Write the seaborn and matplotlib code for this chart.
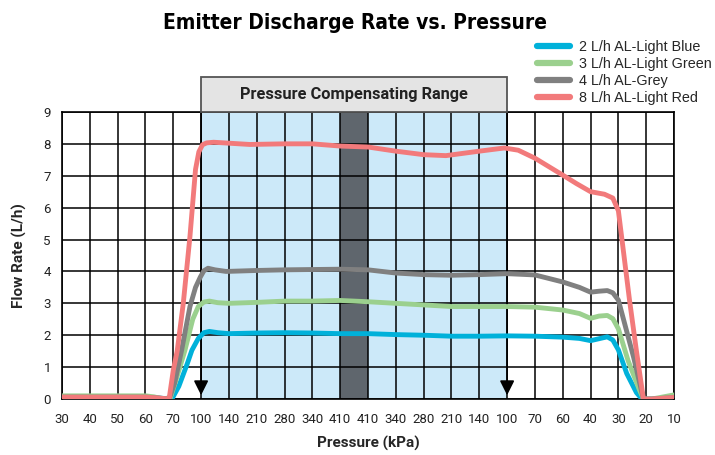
import matplotlib
matplotlib.use("Agg")
import matplotlib.pyplot as plt
import matplotlib.patches as mpatches
from matplotlib.lines import Line2D
import seaborn as sns
import pandas as pd

# Tick labels on the pressure axis (kPa): rising then falling pressure
x_labels = ["30", "40", "50", "60", "70", "100", "140", "210", "280", "340", "410",
            "410", "340", "280", "210", "140", "100", "70", "60", "40", "30", "20", "10"]

series_names = ["2 L/h AL-Light Blue", "3 L/h AL-Light Green",
                "4 L/h AL-Grey", "8 L/h AL-Light Red"]
series_colors = ["#00b1da", "#9bd08e", "#808080", "#f27a7b"]

# values (x = position along the category axis)
blue_x = [0, 3, 3.5, 3.95, 4.2, 4.5, 4.67, 4.9, 5.1, 5.3, 5.6, 6, 7, 8, 9, 10, 11, 12,
          13, 14, 15, 16, 17, 18, 18.6, 19, 19.35, 19.6, 19.8, 20, 20.3, 20.65, 20.85, 21.2, 22]
blue_y = [0.06, 0.06, 0.03, 0.0, 0.4, 1.1, 1.53, 1.9, 2.08, 2.12, 2.08, 2.05, 2.07, 2.08,
          2.07, 2.05, 2.05, 2.02, 2.0, 1.97, 1.97, 1.98, 1.97, 1.94, 1.9, 1.83, 1.9, 1.95,
          1.85, 1.54, 0.8, 0.2, 0.0, 0.0, 0.06]

green_x = [0, 3, 3.3, 3.65, 3.9, 4.1, 4.42, 4.7, 4.9, 5.1, 5.3, 5.6, 6, 7, 8, 9, 10, 11,
           12, 13, 14, 15, 16, 17, 18, 18.6, 19, 19.3, 19.6, 19.8, 20, 20.35, 20.75, 20.9,
           21.2, 22]
green_y = [0.1, 0.1, 0.07, 0.0, 0.05, 0.6, 1.53, 2.5, 2.9, 3.04, 3.07, 3.02, 3.0, 3.03,
           3.07, 3.07, 3.09, 3.05, 3.0, 2.95, 2.9, 2.9, 2.9, 2.88, 2.79, 2.68, 2.53, 2.6,
           2.62, 2.52, 2.2, 1.2, 0.3, 0.0, 0.0, 0.13]

grey_x = [0, 3, 3.5, 3.85, 4.05, 4.3, 4.6, 4.8, 4.97, 5.1, 5.25, 5.5, 5.9, 7, 8, 9, 10,
          11, 12, 13, 14, 15, 16, 17, 18, 18.6, 19, 19.3, 19.6, 19.8, 20, 20.55, 20.9,
          21.2, 22]
grey_y = [0.06, 0.06, 0.03, 0.0, 0.5, 1.53, 2.9, 3.5, 3.82, 4.02, 4.1, 4.05, 4.0, 4.03,
          4.05, 4.06, 4.07, 4.05, 3.95, 3.9, 3.88, 3.9, 3.93, 3.89, 3.67, 3.5, 3.35, 3.38,
          3.4, 3.33, 3.1, 1.3, 0.0, 0.0, 0.05]

red_x = [0, 3, 3.5, 3.85, 4.0, 4.14, 4.36, 4.6, 4.8, 4.92, 5.05, 5.2, 5.45, 6, 6.75, 8,
         9, 10, 11, 12, 13, 13.8, 15, 15.9, 16.4, 17, 18, 18.5, 19, 19.5, 19.8, 20, 20.4,
         20.65, 20.9, 21.2, 22]
red_y = [0.06, 0.06, 0.03, 0.0, 0.9, 1.5, 3.0, 5.1, 7.2, 7.75, 7.97, 8.03, 8.05, 8.02,
         7.98, 8.0, 8.0, 7.93, 7.9, 7.77, 7.66, 7.63, 7.77, 7.87, 7.8, 7.55, 7.02, 6.75,
         6.5, 6.42, 6.3, 5.9, 3.1, 1.5, 0.0, 0.0, 0.05]

y_ticks = list(range(0, 10))
pc_range = (5, 16)      # pressure compensating range (category positions)
peak_band = (10, 11)    # max pressure band

frames = []
for name, xs, ys in zip(series_names, [blue_x, green_x, grey_x, red_x],
                        [blue_y, green_y, grey_y, red_y]):
    frames.append(pd.DataFrame({"pos": xs, "flow": ys, "series": name}))
df = pd.concat(frames, ignore_index=True)

sns.set_style("white")
plt.rcParams["font.family"] = ["Roboto", "DejaVu Sans"]

fig = plt.figure(figsize=(7.15, 4.55), dpi=100)
ax = fig.add_axes([0.0867, 0.123, 0.8560, 0.631])

ax.axvspan(*pc_range, color="#cce9f9", zorder=0, lw=0)
ax.axvspan(*peak_band, color="#5f666d", zorder=0.5, lw=0)

for i in range(len(x_labels)):
    ax.axvline(i, color="black", lw=1.1, zorder=1)
for v in y_ticks:
    ax.axhline(v, color="black", lw=1.1, zorder=1)

sns.lineplot(data=df, x="pos", y="flow", hue="series", hue_order=series_names,
             palette=series_colors, estimator=None, sort=False, lw=3.5,
             legend=False, ax=ax, zorder=3)
for ln in ax.get_lines():
    ln.set_solid_capstyle("round")
    ln.set_solid_joinstyle("round")

ax.set_xlim(0, len(x_labels) - 1)
ax.set_ylim(0, 9)
ax.set_xticks(range(len(x_labels)))
ax.set_xticklabels(x_labels)
ax.set_yticks(y_ticks)
ax.tick_params(axis="both", length=0, labelsize=9.5, colors="#222222")
ax.tick_params(axis="x", pad=10)
ax.tick_params(axis="y", pad=8)
for s in ax.spines.values():
    s.set_color("black")
    s.set_linewidth(1.2)

ax.set_xlabel("Pressure (kPa)", fontsize=11, fontweight="bold", labelpad=7)
ax.set_ylabel("Flow Rate (L/h)", fontsize=11, fontweight="bold", labelpad=12)

# header box for the compensating range
box = mpatches.Rectangle((pc_range[0], 9), pc_range[1] - pc_range[0], 1.1,
                         facecolor="#e4e4e4", edgecolor="#555555", lw=1.3,
                         clip_on=False, zorder=4)
ax.add_patch(box)
ax.text(sum(pc_range) / 2, 9.55, "Pressure Compensating Range", ha="center",
        va="center", fontsize=11.8, fontweight="bold", color="#222222", zorder=5)

for xp in pc_range:
    ax.annotate("", xy=(xp, 0.12), xytext=(xp, 9),
                arrowprops=dict(arrowstyle="-|>", color="black", lw=1.2,
                                mutation_scale=22, shrinkA=0, shrinkB=0),
                zorder=2)

handles = [Line2D([0], [0], color=c, lw=4.5) for c in series_colors]
fig.legend(handles, series_names, loc="upper left", bbox_to_anchor=(0.733, 0.941),
           frameon=False, handlelength=2.3, handletextpad=0.6, labelspacing=0.22,
           prop={"family": ["Liberation Sans", "DejaVu Sans"], "size": 10.4})

fig.text(0.497, 0.950, "Emitter Discharge Rate vs. Pressure", ha="center", va="center",
         fontsize=15, fontweight="bold", fontstretch="condensed",
         family=["DejaVu Sans"], color="black")

fig.savefig("out.png", dpi=100)
